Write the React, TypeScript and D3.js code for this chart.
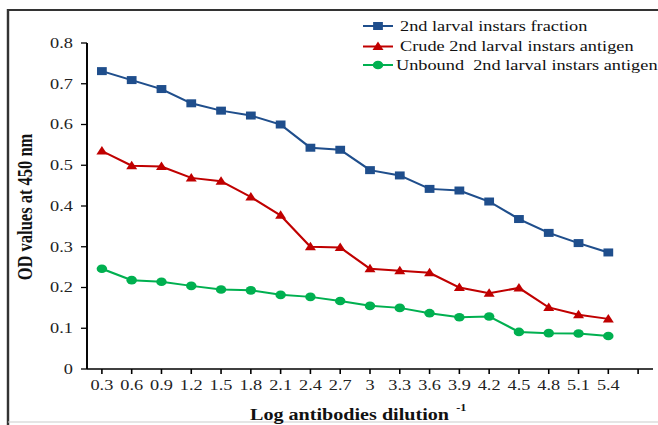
import React from 'react';
import * as d3 from 'd3';

// dilution labels on the x axis
const dilutions = ['0.3', '0.6', '0.9', '1.2', '1.5', '1.8', '2.1', '2.4', '2.7', '3', '3.3', '3.6', '3.9', '4.2', '4.5', '4.8', '5.1', '5.4'];

const fraction = [0.731, 0.709, 0.687, 0.652, 0.634, 0.622, 0.600, 0.543, 0.538, 0.488, 0.475, 0.442, 0.438, 0.411, 0.368, 0.334, 0.309, 0.286];
const crude = [0.535, 0.499, 0.497, 0.469, 0.461, 0.422, 0.377, 0.300, 0.298, 0.246, 0.241, 0.236, 0.200, 0.186, 0.199, 0.151, 0.133, 0.123];
const unbound = [0.246, 0.218, 0.214, 0.204, 0.195, 0.193, 0.182, 0.177, 0.167, 0.155, 0.150, 0.137, 0.127, 0.129, 0.091, 0.088, 0.087, 0.081];

const yTicks = [0, 0.1, 0.2, 0.3, 0.4, 0.5, 0.6, 0.7, 0.8];

const seriesNames = ['2nd larval instars fraction', 'Crude 2nd larval instars antigen', 'Unbound  2nd larval instars antigen'];

// the original picture is stretched sideways, so everything is drawn in a squeezed frame
const SX = 1.22;
const font = '"Liberation Serif", "Times New Roman", serif';

const BLUE = '#1f4e8c';
const RED = '#c00000';
const GREEN = '#00b050';

function Marker({ kind, x, y, color }: { kind: string; x: number; y: number; color: string }) {
  if (kind === 'square') {
    return <rect x={x - 4} y={y - 4} width={8} height={8} fill={color} />;
  }
  if (kind === 'triangle') {
    return <path d={`M${x},${y - 5}L${x + 4.5},${y + 3.5}L${x - 4.5},${y + 3.5}Z`} fill={color} />;
  }
  return <circle cx={x} cy={y} r={4.3} fill={color} />;
}

export default function App() {
  const slots = [...dilutions, ''];
  const x = d3.scaleBand<string>().domain(slots).range([87 / SX, 653 / SX]);
  const y = d3.scaleLinear().domain([0, 0.8]).range([369, 43]);
  const cx = (d: string) => (x(d) as number) + x.bandwidth() / 2;

  const series = [
    { name: seriesNames[0], values: fraction, color: BLUE, kind: 'square' },
    { name: seriesNames[1], values: crude, color: RED, kind: 'triangle' },
    { name: seriesNames[2], values: unbound, color: GREEN, kind: 'circle' },
  ];

  const line = d3.line<number>()
    .x((_, i) => cx(dilutions[i]))
    .y(d => y(d));

  const x0 = 87 / SX;
  const x1 = 653 / SX;

  const legendRows = [26, 46.5, 65];
  const legendTextX = [400, 400, 396];

  return (
    <svg width={658} height={425} style={{ position: 'absolute', left: 0, top: 0, background: '#fff' }}>
      <rect x={0} y={0} width={658} height={425} fill="#fff" />
      <g transform={`scale(${SX},1)`} fontFamily={font}>
        {/* frame */}
        <path d={`M${8 / SX},430V10H${700 / SX}`} fill="none" stroke="#333" strokeWidth={2} />
        <line x1={8 / SX} x2={700 / SX} y1={422} y2={422} stroke="#ccc" strokeWidth={1} />

        {/* y axis */}
        <line x1={x0} x2={x0} y1={y(0.8)} y2={y(0)} stroke="#000" strokeWidth={1.6} />
        {yTicks.map(t => (
          <g key={t}>
            <line x1={x0 - 6 / SX} x2={x0} y1={y(t)} y2={y(t)} stroke="#000" strokeWidth={1.3} />
            <text x={73 / SX} y={y(t) + 5} textAnchor="end" fontSize={15} fill="#222">{t === 0 ? '0' : t.toFixed(1)}</text>
          </g>
        ))}

        {/* x axis */}
        <line x1={x0} x2={x1} y1={y(0)} y2={y(0)} stroke="#000" strokeWidth={1.6} />
        {slots.map((d, i) => (
          <g key={i}>
            <line x1={cx(d)} x2={cx(d)} y1={y(0)} y2={y(0) + 5} stroke="#000" strokeWidth={1.3} />
            <text x={cx(d)} y={390} textAnchor="middle" fontSize={15} fill="#222">{d}</text>
          </g>
        ))}

        {/* axis titles */}
        <text x={250 / SX} y={420} fontSize={16.5} fontWeight="bold" fill="#111">
          Log antibodies dilution
          <tspan dx={6} dy={-9} fontSize={10}>-1</tspan>
        </text>
        <text transform={`translate(${32 / SX},207) rotate(-90)`} textAnchor="middle" fontSize={16.5} fontWeight="bold" fill="#111">
          OD values at 450 nm
        </text>

        {/* series */}
        {series.map(s => (
          <g key={s.name}>
            <path d={line(s.values) as string} fill="none" stroke={s.color} strokeWidth={2} />
            {s.values.map((v, i) => (
              <Marker key={i} kind={s.kind} x={cx(dilutions[i])} y={y(v)} color={s.color} />
            ))}
          </g>
        ))}

        {/* legend */}
        {series.map((s, i) => (
          <g key={s.name}>
            <line x1={363 / SX} x2={393 / SX} y1={legendRows[i]} y2={legendRows[i]} stroke={s.color} strokeWidth={2} />
            <Marker kind={s.kind} x={378 / SX} y={legendRows[i]} color={s.color} />
            <text x={legendTextX[i] / SX} y={legendRows[i] + 5} fontSize={15} fill="#111" style={{ whiteSpace: 'pre' }}>{s.name}</text>
          </g>
        ))}
      </g>
    </svg>
  );
}
